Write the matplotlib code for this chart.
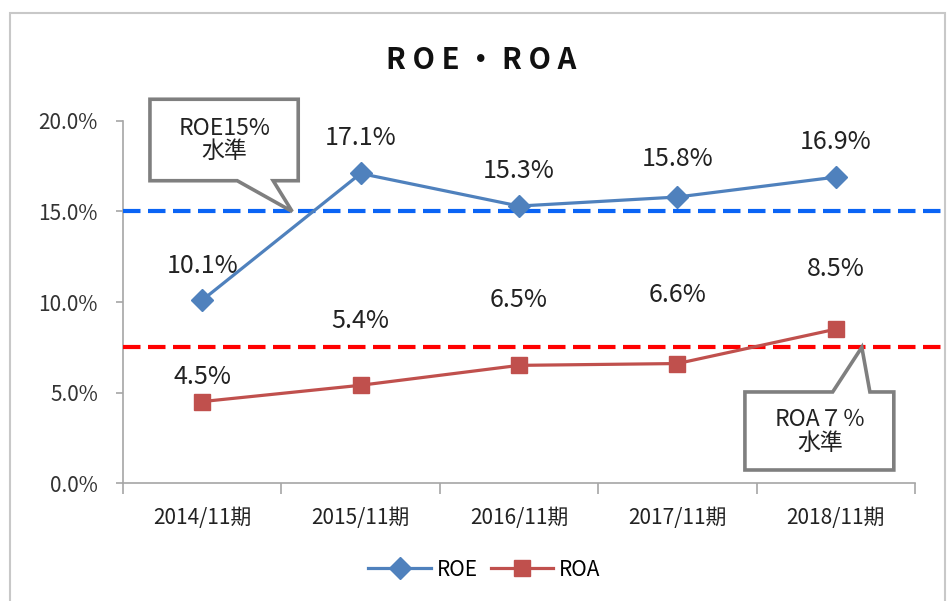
import matplotlib.pyplot as plt
from matplotlib.patches import Polygon, Rectangle
import numpy as np

# data
periods = ['2014/11期', '2015/11期', '2016/11期', '2017/11期', '2018/11期']
roe = [10.1, 17.1, 15.3, 15.8, 16.9]
roa = [4.5, 5.4, 6.5, 6.6, 8.5]
roe_target = 15.0
roa_target = 7.5
yticks = [0, 5, 10, 15, 20]

# label offsets (pixels above the point)
roe_label_dy = [34, 35, 35, 38, 35]
roa_label_dy = [25, 64, 65, 69, 60]

plt.rcParams['font.family'] = ['Noto Sans CJK JP', 'DejaVu Sans']

fig = plt.figure(figsize=(9.5, 6.01), dpi=100)
ax = fig.add_axes([0.1295, 0.1963, 0.8337, 0.6024])
x = np.arange(len(periods))

# series
ax.plot(x, roe, color='#4F81BD', lw=2.3, marker='D', ms=11, label='ROE', zorder=4)
ax.plot(x, roa, color='#C0504D', lw=2.3, marker='s', ms=12, label='ROA', zorder=4)

# target lines, run past the plot area up to the frame
ax.plot([-0.5, 4.69], [roe_target, roe_target], color='#0A64F5', lw=3.0,
        dashes=(4.2, 1.8), clip_on=False, zorder=3)
ax.plot([-0.5, 4.69], [roa_target, roa_target], color='#FF0000', lw=3.0,
        dashes=(4.2, 1.8), clip_on=False, zorder=3)

# data labels
for i in range(len(x)):
    ax.annotate(f'{roe[i]:.1f}%', (x[i], roe[i]), xytext=(0, roe_label_dy[i] * 0.72),
                textcoords='offset points', ha='center', va='center', fontsize=18,
                color='#222222')
    ax.annotate(f'{roa[i]:.1f}%', (x[i], roa[i]), xytext=(0, roa_label_dy[i] * 0.72),
                textcoords='offset points', ha='center', va='center', fontsize=18,
                color='#222222')

# callouts
roe_box = [(-0.33, 21.2), (0.606, 21.2), (0.606, 16.7), (0.448, 16.7),
           (0.568, roe_target), (0.221, 16.7), (-0.33, 16.7)]
roa_box = [(3.426, 5.03), (3.98, 5.03), (4.164, roa_target), (4.215, 5.03),
           (4.366, 5.03), (4.366, 0.72), (3.426, 0.72)]
for pts in [roe_box, roa_box]:
    ax.add_patch(Polygon(pts, closed=True, facecolor='white', edgecolor='#7F7F7F',
                         lw=2.6, clip_on=False, zorder=5))
ax.text(0.14, 18.95, 'ROE15%\n水準', ha='center', va='center', fontsize=16.5,
        linespacing=1.05, zorder=6, color='#222222')
ax.text(3.9, 2.87, 'ROA７％\n水準', ha='center', va='center', fontsize=16.5,
        linespacing=1.05, zorder=6, color='#222222')

# axes
ax.set_xlim(-0.5, 4.5)
ax.set_ylim(0, 20)
ax.set_yticks(yticks)
ax.set_yticklabels([f'{v:.1f}%' for v in yticks], fontsize=15, color='#333333')
ax.set_xticks(x)
ax.set_xticklabels(periods, fontsize=15, color='#222222')
ax.set_xticks(np.arange(-0.5, len(periods)), minor=True)
ax.tick_params(axis='x', which='major', length=0, pad=17)
ax.tick_params(axis='x', which='minor', length=8, color='#A6A6A6', width=1.2)
ax.tick_params(axis='y', length=5, color='#A6A6A6', width=1.2, pad=13)
for s in ['top', 'right']:
    ax.spines[s].set_visible(False)
for s in ['left', 'bottom']:
    ax.spines[s].set_color('#A6A6A6')
    ax.spines[s].set_linewidth(1.2)

# title
fig.text(0.506, 0.9, 'R O E ・ R O A', ha='center', va='center', fontsize=21,
         fontweight='bold', color='#111111')

# legend
leg = fig.legend(loc='center', bbox_to_anchor=(0.51, 0.052), ncol=2, frameon=False,
                 handlelength=3, columnspacing=0.6, handletextpad=0.3,
                 prop={'size': 15})

# outer frame
fig.add_artist(Rectangle((10 / 950, -0.05), 935 / 950, 1.028, transform=fig.transFigure,
                         fill=False, edgecolor='#C8C8C8', lw=1.5, clip_on=False))

fig.savefig('out.png', dpi=100)
